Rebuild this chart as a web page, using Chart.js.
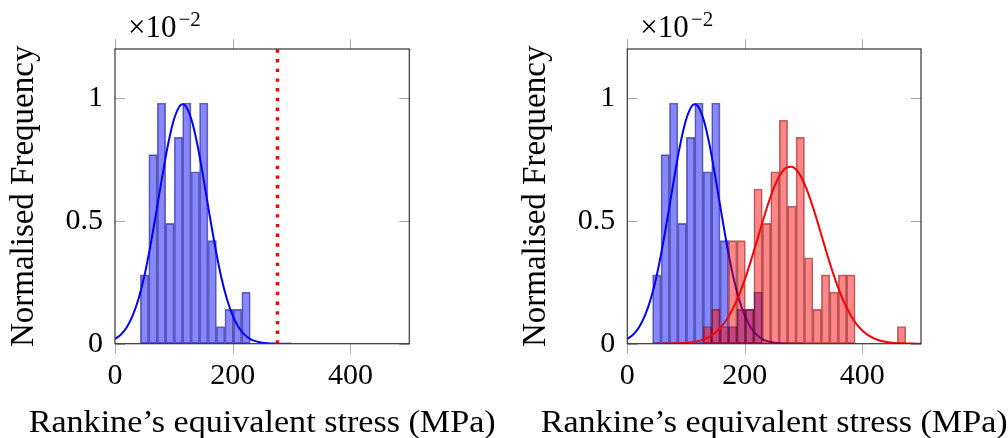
<!DOCTYPE html>
<html>
<head>
<meta charset="utf-8">
<script src="https://cdn.jsdelivr.net/npm/chart.js@4.4.1/dist/chart.umd.min.js"></script>
<style>
  html, body { margin: 0; padding: 0; background: #fff; }
  #wrap { position: relative; width: 1008px; height: 438px; overflow: hidden; }
  canvas { position: absolute; top: 0; }
</style>
</head>
<body>
<div id="wrap">
  <canvas id="leftChart" width="512" height="438" style="left:0"></canvas>
  <canvas id="rightChart" width="496" height="438" style="left:512px"></canvas>
</div>
<script>
// === DATA (frequencies in units of 10^-2) === //
const binCentres = [50.19, 64.56, 78.93, 93.30, 107.67, 122.04, 136.41, 150.78, 165.15, 179.52,
                    193.89, 208.26, 222.63, 237.00, 251.37, 265.74, 280.11, 294.48, 308.85, 323.22,
                    337.59, 351.96, 366.33, 380.70, 395.07, 409.44, 423.81, 438.18, 452.55, 466.92];
const blueFreq = [0.28, 0.77, 0.98, 0.49, 0.84, 0.98, 0.70, 0.98, 0.42, 0.07, 0.14, 0.14, 0.21];
const redFreq = [null, null, null, null, null, null, 0.07, 0.14, 0.07, 0.42,
                 0.42, 0.14, 0.63, 0.49, 0.70, 0.91, 0.56, 0.84, 0.35, 0.14,
                 0.28, 0.21, 0.28, 0.28, null, null, null, null, null, 0.07];

const blueFitX = [0, 10, 20, 30, 40, 50, 60, 70, 80, 90, 100, 110, 115, 120, 130, 140, 150, 160,
                  170, 180, 190, 200, 210, 220, 230, 240, 250, 260, 270, 280, 290, 300];
const blueFitY = [0.019, 0.037, 0.067, 0.114, 0.183, 0.277, 0.397, 0.534, 0.677, 0.810, 0.912, 0.968,
                  0.975, 0.968, 0.912, 0.810, 0.677, 0.534, 0.397, 0.277, 0.183, 0.114, 0.067, 0.037,
                  0.019, 0.0093, 0.0043, 0.0019, 0.0008, 0.0003, 0.0001, 0];

const redFitX = [50, 60, 70, 80, 90, 100, 110, 120, 130, 140, 150, 160, 170, 180, 190, 200, 210, 220,
                 230, 240, 250, 260, 270, 280, 290, 300, 310, 320, 330, 340, 350, 360, 370, 380, 390,
                 400, 410, 420, 430, 440, 450, 460, 470, 480, 490, 500];
const redFitY = [0.0001, 0.0002, 0.0005, 0.0009, 0.0018, 0.0034, 0.0061, 0.0105, 0.0178, 0.0289,
                 0.0454, 0.0691, 0.1014, 0.1439, 0.1972, 0.2612, 0.3344, 0.4136, 0.4944, 0.5709,
                 0.6372, 0.6871, 0.7159, 0.7209, 0.7014, 0.6594, 0.5990, 0.5258, 0.4460, 0.3655,
                 0.2895, 0.2216, 0.1638, 0.1171, 0.0809, 0.0539, 0.0348, 0.0217, 0.0130, 0.0076,
                 0.0043, 0.0023, 0.0012, 0.0006, 0.0003, 0.0001];

const limitStress = 276;
const xTicks = [0, 200, 400];
const yTicks = [0, 0.5, 1];
const xTitle = "Rankine\u2019s equivalent stress (MPa)";
const yTitle = "Normalised Frequency";

// ---- HELPERS ---- //
const SERIF = '"Liberation Serif", "Times New Roman", serif';

function pairs(xs, ys){
  return ys.map((y, i) => ({ x: xs[i], y })).filter(p => p.y !== null);
}

function blueBars(){
  return { type:'bar', data: pairs(binCentres, blueFreq), order:5,
    backgroundColor:'rgba(0,0,255,0.47)', borderColor:'rgba(0,0,90,0.55)',
    borderWidth:1, borderSkipped:false, grouped:false,
    categoryPercentage:1, barPercentage:1 };
}
function redBars(){
  return { type:'bar', data: pairs(binCentres, redFreq), order:3,
    backgroundColor:'rgba(255,0,0,0.47)', borderColor:'rgba(100,0,0,0.55)',
    borderWidth:1, borderSkipped:false, grouped:false,
    categoryPercentage:1, barPercentage:1 };
}
function fitLine(xs, ys, color, order){
  return { type:'line', data: pairs(xs, ys), order,
    borderColor:color, borderWidth:2, pointRadius:0, fill:false,
    cubicInterpolationMode:'monotone' };
}
function limitLine(){
  return { type:'line', data:[{x:limitStress, y:0}, {x:limitStress, y:1.2}], order:1,
    borderColor:'#ff0000', borderWidth:3.4, borderDash:[3.4, 6.3], borderCapStyle:'butt',
    pointRadius:0, fill:false };
}

// frame, inner/outer tick marks, x title and the x10^-2 multiplier
const framePlugin = {
  id:'frame',
  afterDatasetsDraw(chart){
    const { ctx, chartArea:a, scales:{ x, y } } = chart;
    ctx.save();
    ctx.strokeStyle = '#a8a8a8';
    ctx.lineWidth = 1;
    ctx.beginPath();
    xTicks.forEach(v => {
      const px = Math.round(x.getPixelForValue(v)) + 0.5;
      ctx.moveTo(px, a.bottom); ctx.lineTo(px, a.bottom + 10);
      ctx.moveTo(px, a.top); ctx.lineTo(px, a.top - 10);
    });
    yTicks.forEach(v => {
      const py = Math.round(y.getPixelForValue(v)) + 0.5;
      ctx.moveTo(a.left, py); ctx.lineTo(a.left + 10, py);
      ctx.moveTo(a.right, py); ctx.lineTo(a.right - 10, py);
    });
    ctx.stroke();
    ctx.strokeStyle = '#333';
    ctx.lineWidth = 1.2;
    ctx.strokeRect(a.left, a.top, a.right - a.left, a.bottom - a.top);

    ctx.fillStyle = '#000';
    ctx.textBaseline = 'alphabetic';
    ctx.font = '31px ' + SERIF;
    const base = a.left + 13;
    ctx.fillText('\u00d710', base, 37);
    const w = ctx.measureText('\u00d710').width;
    ctx.font = '21px ' + SERIF;
    ctx.fillText('\u22122', base + w + 2, 26);

    // x title, stretched a little to the width of the original typeface
    ctx.font = '31px ' + SERIF;
    const tw = ctx.measureText(xTitle).width;
    const sx = 467 / tw;
    ctx.translate((a.left + a.right) / 2, 431.5);
    ctx.scale(sx, 1);
    ctx.textAlign = 'center';
    ctx.fillText(xTitle, 0, 0);
    ctx.restore();
  }
};

function makePanel(id, datasets, yWidth, padRight){
  return new Chart(document.getElementById(id), {
    type:'bar',
    data:{ datasets },
    plugins:[framePlugin],
    options:{
      responsive:false,
      animation:false,
      layout:{ padding:{ top:49, right:padRight, left:0, bottom:0 } },
      plugins:{ legend:{ display:false }, tooltip:{ enabled:false } },
      scales:{
        x:{
          type:'linear', min:0, max:500, offset:false,
          afterBuildTicks: s => { s.ticks = xTicks.map(v => ({ value:v })); },
          afterFit: s => { s.height = 94.3; },
          grid:{ display:false, drawTicks:false },
          border:{ display:false },
          ticks:{ padding:14, color:'#000', font:{ family:SERIF, size:30 }, callback: v => String(v) }
        },
        y:{
          min:0, max:1.2,
          afterBuildTicks: s => { s.ticks = yTicks.map(v => ({ value:v })); },
          afterFit: s => { s.width = yWidth; },
          grid:{ display:false, drawTicks:false },
          border:{ display:false },
          ticks:{ padding:12, color:'#000', font:{ family:SERIF, size:30 }, callback: v => String(v) },
          title:{ display:true, text:yTitle, color:'#000', padding:{ top:8, bottom:0 },
                  font:{ family:SERIF, size:33, lineHeight:1 } }
        }
      }
    }
  });
}

makePanel('leftChart', [
  blueBars(),
  fitLine(blueFitX, blueFitY, '#0000ff', 4),
  limitLine()
], 115, 102.7);

makePanel('rightChart', [
  blueBars(),
  fitLine(blueFitX, blueFitY, '#0000ff', 4),
  redBars(),
  fitLine(redFitX, redFitY, '#ff0000', 2)
], 115.3, 87);
</script>
</body>
</html>
